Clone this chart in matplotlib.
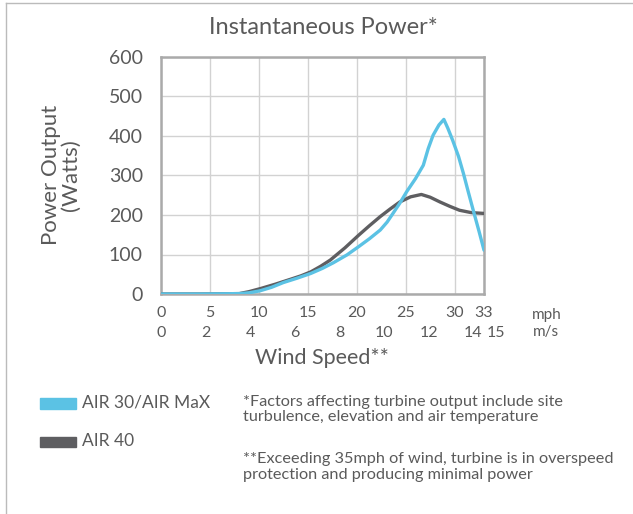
import matplotlib
matplotlib.use("Agg")
import matplotlib.pyplot as plt
import matplotlib.lines as mlines

# --- data (wind speed in mph, power in watts) ---
air30_mph = [0, 4, 8.0, 9.0, 10.1, 11.3, 12.5, 13.9, 15.3, 16.5, 17.6, 19.0, 20.2,
             21.3, 22.4, 23.1, 23.7, 24.4, 25.1, 26.0, 26.8, 27.3, 27.8, 28.4,
             28.9, 29.3, 29.8, 30.4, 30.9, 31.4, 31.9, 32.5, 33.0]
air30_w = [0, 0, 1, 3, 8, 17, 29, 40, 52, 65, 79, 99, 120, 140, 162, 182, 204,
           230, 259, 292, 326, 368, 402, 428, 442, 420, 389, 348, 305, 258, 212,
           158, 111]

air40_mph = [0, 4, 8.0, 9.0, 10.2, 11.7, 13.2, 14.3, 15.3, 16.3, 17.3, 18.8, 20.2,
             21.3, 22.4, 23.4, 24.4, 25.5, 26.6, 27.5, 28.5, 29.5, 30.5, 31.7, 33.0]
air40_w = [0, 0, 1, 6, 14, 25, 37, 46, 56, 70, 86, 117, 149, 173, 196, 215, 233,
           246, 252, 245, 233, 222, 212, 206, 204]

mph_ticks = [0, 5, 10, 15, 20, 25, 30, 33]
ms_ticks = [0, 2, 4, 6, 8, 10, 12, 14, 15]
y_ticks = [0, 100, 200, 300, 400, 500, 600]
MS_LABEL_SCALE = 2.28  # the chart's m/s row is laid out a little wider than 2.237

BLUE = '#5bc2e4'
DARK = '#5e5e61'
TXT = '#5a5a5a'

plt.rcParams['font.family'] = ['Lato', 'DejaVu Sans']

fig = plt.figure(figsize=(6.33, 5.14), dpi=100, facecolor='white')
ax = fig.add_axes([161/633, 1 - 294/514, 323/633, 237/514])

ax.plot(air40_mph, air40_w, color=DARK, lw=2.4, solid_joinstyle='round',
        solid_capstyle='round', zorder=3)
ax.plot(air30_mph, air30_w, color=BLUE, lw=2.4, solid_joinstyle='round',
        solid_capstyle='round', zorder=4)

ax.set_xlim(0, 33)
ax.set_ylim(0, 600)
ax.set_yticks(y_ticks)
ax.set_xticks(mph_ticks)
ax.set_xticklabels([])
ax.tick_params(axis='both', length=0)
ax.tick_params(axis='y', labelsize=14, labelcolor=TXT, pad=13)
ax.grid(True, color='#d2d2d2', lw=1.0)
ax.set_axisbelow(True)
for s in ax.spines.values():
    s.set_color('#aaaaaa')
    s.set_linewidth(1.8)

# two rows of x labels: mph and m/s
trans = ax.get_xaxis_transform()
for v in mph_ticks:
    ax.text(v, -0.08, str(v), transform=trans, ha='center', va='center',
            fontsize=11.5, color=TXT, clip_on=False)
for v in ms_ticks:
    ax.text(v * MS_LABEL_SCALE, -0.165, str(v), transform=trans, ha='center',
            va='center', fontsize=11.5, color=TXT, clip_on=False)
fig.text(532/633, 1 - 315/514, 'mph', ha='left', va='center', fontsize=11, color=TXT)
fig.text(533/633, 1 - 332/514, 'm/s', ha='left', va='center', fontsize=11, color=TXT)

fig.text(322/633, 1 - 358/514, 'Wind Speed**', ha='center', va='center',
         fontsize=15.5, color=TXT)
fig.text(323/633, 1 - 27/514, 'Instantaneous Power*', ha='center', va='center',
         fontsize=17, color=TXT)
fig.text(61/633, 1 - 175/514, 'Power Output\n(Watts)', ha='center', va='center',
         rotation=90, fontsize=16, color=TXT, linespacing=1.0)

# legend as patches + text
fig.patches.append(plt.Rectangle((40/633, 1 - 409/514), 36/633, 11/514,
                                 transform=fig.transFigure, color=BLUE))
fig.patches.append(plt.Rectangle((40/633, 1 - 447/514), 36/633, 10/514,
                                 transform=fig.transFigure, color=DARK))
fig.text(82/633, 1 - 403/514, 'AIR 30/AIR MaX', ha='left', va='center',
         fontsize=12.5, color=TXT)
fig.text(82/633, 1 - 441/514, 'AIR 40', ha='left', va='center',
         fontsize=12.5, color=TXT)

fig.text(243/633, 1 - 409.5/514,
         '*Factors affecting turbine output include site\n'
         'turbulence, elevation and air temperature',
         ha='left', va='center', fontsize=11.7, color=TXT, linespacing=1.12)
fig.text(243/633, 1 - 467/514,
         '**Exceeding 35mph of wind, turbine is in overspeed\n'
         'protection and producing minimal power',
         ha='left', va='center', fontsize=11.7, color=TXT, linespacing=1.12)

# light frame at top and left
fig.add_artist(mlines.Line2D([6/633, 1], [1 - 3/514, 1 - 3/514],
                             transform=fig.transFigure, color='#bbbbbb', lw=1))
fig.add_artist(mlines.Line2D([6/633, 6/633], [0, 1 - 3/514],
                             transform=fig.transFigure, color='#bbbbbb', lw=1))

fig.savefig('out.png', dpi=100, facecolor='white')
